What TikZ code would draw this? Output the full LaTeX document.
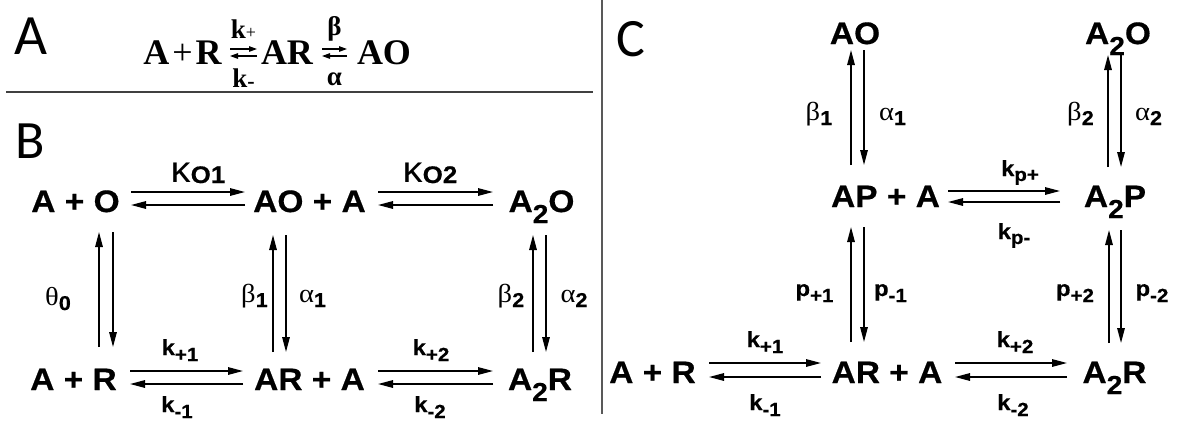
\documentclass[tikz,border=0pt]{standalone}
\usepackage{fontspec}
\usepackage{graphicx}
\setmainfont{Liberation Sans}[FakeStretch=1.08,BoldFeatures={FakeBold=0.5}]
\newfontfamily\grk{Liberation Serif}[FakeStretch=1.1]
\newfontfamily\tms{Liberation Serif}[FakeStretch=1.0]
\newfontfamily\pnl{Carlito}
\usetikzlibrary{arrows.meta,calc}
\newcommand\SubTwo{\raisebox{-11pt}{\fontsize{26}{27}\selectfont 2}}
\newcommand\LS[2][6]{\raisebox{-#1pt}{\fontsize{19}{20}\selectfont\bfseries #2}}
\newcommand\GS[2][5]{\raisebox{-#1pt}{\normalfont\bfseries\fontsize{20}{21}\selectfont #2}}
\newcommand\KS[1]{\raisebox{-1pt}{\normalfont\bfseries\fontsize{24}{25}\selectfont #1}}
\tikzset{
 sp/.style={inner sep=0pt,anchor=base,font=\fontsize{31}{32}\selectfont\bfseries},
 lb/.style={inner sep=0pt,anchor=base,font=\fontsize{22}{23}\selectfont\bfseries},
 gk/.style={inner sep=0pt,anchor=base,font=\grk\fontsize{26}{27}\selectfont},
 kp/.style={inner sep=0pt,anchor=base,font=\fontsize{37}{37}\selectfont},
 pn/.style={inner sep=0pt,anchor=base west,font=\pnl\fontsize{54}{56}\selectfont},
 eq/.style={inner sep=0pt,anchor=base,font=\tms\fontsize{36}{38}\selectfont\bfseries},
 eql/.style={inner sep=0pt,anchor=base,font=\tms\fontsize{27}{28}\selectfont\bfseries},
 fw/.style={line width=1.5pt,-{Triangle[length=15pt,width=7.5pt]}},
 sfw/.style={line width=1.2pt,-{Triangle[length=8pt,width=5.5pt]}},
 rule/.style={line width=1.6pt,draw=black!75},
}
\begin{document}
\begin{tikzpicture}[x=1pt,y=-1pt]
\fill[white] (0,0) rectangle (1177,421);
\useasboundingbox (0,0) rectangle (1177,421);

% ---------- panel labels and rules
\node[pn,font=\pnl\fontsize{57}{60}\selectfont] (lA) at (14,54) {A};
\node[pn] (lB) at (15,158) {B};
\node[pn] (lC) at (616,56) {C};
\draw[rule] (6,92) -- (593,92);
\draw[rule,draw=black!65] (602,0) -- (602,414);

% ---------- panel A equation
\node[eq] (eAR) at (182.5,64) {A\hspace{3pt}{\mdseries +}\hspace{3pt}R};
\node[eq] (eAR2) at (287,64) {AR};
\node[eq] (eAO) at (384,64) {AO};
\node[eql] (ekp) at (243.5,38) {k\raisebox{0pt}{\mdseries\fontsize{18}{19}\selectfont +}};
\node[eql] (ekm) at (243.5,87) {k\raisebox{-1pt}{\fontsize{22}{23}\selectfont -}};
\node[eql] (ebe) at (334.5,35) {β};
\node[eql] (eal) at (334.5,85) {α};
\draw[sfw] ($(eAR.base)+(47.5,-15)$) -- ($(eAR2.base)+(-30,-15)$);
\draw[sfw] ($(eAR2.base)+(-30,-8)$) -- ($(eAR.base)+(47.5,-8)$);
\draw[sfw] ($(eAR2.base)+(35,-15)$) -- ($(eAO.base)+(-37,-15)$);
\draw[sfw] ($(eAO.base)+(-37,-8)$) -- ($(eAR2.base)+(35,-8)$);

% ---------- panel B species
\node[sp] (bAO) at (75.5,212) {A + O};
\node[sp] (bAOA) at (309.5,212) {AO + A};
\node[sp] (bA2O) at (541.5,212) {A\SubTwo O};
\node[sp] (bAR) at (73.5,390) {A + R};
\node[sp] (bARA) at (309.5,390) {AR + A};
\node[sp] (bA2R) at (540,390) {A\SubTwo R};

% horizontal arrows B
\draw[fw] ($(bAO.base)+(55.5,-20)$) -- ($(bAOA.base)+(-64.5,-20)$);
\draw[fw] ($(bAOA.base)+(-64.5,-7)$) -- ($(bAO.base)+(55.5,-7)$);
\draw[fw] ($(bAOA.base)+(68.5,-20)$) -- ($(bA2O.base)+(-48.5,-20)$);
\draw[fw] ($(bA2O.base)+(-48.5,-7)$) -- ($(bAOA.base)+(68.5,-7)$);
\draw[fw] ($(bAR.base)+(56.5,-19)$) -- ($(bARA.base)+(-66.5,-19)$);
\draw[fw] ($(bARA.base)+(-66.5,-6)$) -- ($(bAR.base)+(56.5,-6)$);
\draw[fw] ($(bARA.base)+(68.5,-19)$) -- ($(bA2R.base)+(-47,-19)$);
\draw[fw] ($(bA2R.base)+(-47,-6)$) -- ($(bARA.base)+(68.5,-6)$);

% vertical arrows B
\draw[fw] ($(bAR.base)+(25.5,-43)$) -- ($(bAO.base)+(23.5,20)$);
\draw[fw] ($(bAO.base)+(37.5,20)$) -- ($(bAR.base)+(39.5,-43)$);
\draw[fw] ($(bARA.base)+(-36.5,-38)$) -- ($(bAOA.base)+(-36.5,23)$);
\draw[fw] ($(bAOA.base)+(-23.5,23)$) -- ($(bARA.base)+(-23.5,-38)$);
\draw[fw] ($(bA2R.base)+(-7,-38)$) -- ($(bA2O.base)+(-8.5,23)$);
\draw[fw] ($(bA2O.base)+(4.5,23)$) -- ($(bA2R.base)+(6,-38)$);

% labels B
\node[kp] (bk1) at (198,182) {κ\KS{O1}};
\node[kp] (bk2) at (430,182) {κ\KS{O2}};
\node[lb] (bkp1) at (180,355) {k\LS{+1}};
\node[lb] (bkm1) at (177,412) {k\LS{-1}};
\node[lb] (bkp2) at (431,355) {k\LS{+2}};
\node[lb] (bkm2) at (430,412) {k\LS{-2}};
\node[gk] (bth) at (58,305) {θ\GS{0}};
\node[gk] (bb1) at (254.5,302) {β\GS{1}};
\node[gk] (ba1) at (312.5,302) {α\GS{1}};
\node[gk] (bb2) at (511,302) {β\GS{2}};
\node[gk] (ba2) at (574,302) {α\GS{2}};

% ---------- panel C species
\node[sp] (cAO) at (855,44) {AO};
\node[sp] (cA2O) at (1118,44) {A\SubTwo O};
\node[sp] (cAPA) at (885.5,207) {AP + A};
\node[sp] (cA2P) at (1115,207) {A\SubTwo P};
\node[sp] (cAR) at (652.5,383) {A + R};
\node[sp] (cARA) at (887,383) {AR + A};
\node[sp] (cA2R) at (1114.5,383) {A\SubTwo R};

% horizontal arrows C
\draw[fw] ($(cAPA.base)+(62.5,-16)$) -- ($(cA2P.base)+(-55,-16)$);
\draw[fw] ($(cA2P.base)+(-55,-5)$) -- ($(cAPA.base)+(62.5,-5)$);
\draw[fw] ($(cAR.base)+(56.5,-20)$) -- ($(cARA.base)+(-66,-20)$);
\draw[fw] ($(cARA.base)+(-66,-6)$) -- ($(cAR.base)+(56.5,-6)$);
\draw[fw] ($(cARA.base)+(68,-20)$) -- ($(cA2R.base)+(-47.5,-20)$);
\draw[fw] ($(cA2R.base)+(-47.5,-6)$) -- ($(cARA.base)+(68,-6)$);

% vertical arrows C
\draw[fw] ($(cAPA.base)+(-34.5,-42)$) -- ($(cAO.base)+(-4,6)$);
\draw[fw] ($(cAO.base)+(9,6)$) -- ($(cAPA.base)+(-21.5,-42)$);
\draw[fw] ($(cA2P.base)+(-7,-40)$) -- ($(cA2O.base)+(-10,11)$);
\draw[fw] ($(cA2O.base)+(3,11)$) -- ($(cA2P.base)+(6,-40)$);
\draw[fw] ($(cARA.base)+(-36,-41)$) -- ($(cAPA.base)+(-34.5,20)$);
\draw[fw] ($(cAPA.base)+(-21.5,20)$) -- ($(cARA.base)+(-23,-41)$);
\draw[fw] ($(cA2R.base)+(-5.5,-40)$) -- ($(cA2P.base)+(-6,23)$);
\draw[fw] ($(cA2P.base)+(6,23)$) -- ($(cA2R.base)+(6.5,-40)$);

% labels C
\node[gk] (cb1) at (819,120) {β\GS{1}};
\node[gk] (ca1) at (892.5,120) {α\GS{1}};
\node[gk] (cb2) at (1080.5,120) {β\GS{2}};
\node[gk] (ca2) at (1148.5,120) {α\GS{2}};
\node[lb] (ckpp) at (1020,176) {k\LS[5]{p+}};
\node[lb] (ckpm) at (1014,239) {k\LS[5]{p-}};
\node[lb] (cpp1) at (814.5,296) {p\LS{+1}};
\node[lb] (cpm1) at (890.5,296) {p\LS{-1}};
\node[lb] (cpp2) at (1075,296) {p\LS{+2}};
\node[lb] (cpm2) at (1152,296) {p\LS{-2}};
\node[lb] (ckp1) at (765,347) {k\LS{+1}};
\node[lb] (ckm1) at (765,410) {k\LS{-1}};
\node[lb] (ckp2) at (1015,347) {k\LS{+2}};
\node[lb] (ckm2) at (1013,410) {k\LS{-2}};
\end{tikzpicture}
\end{document}
